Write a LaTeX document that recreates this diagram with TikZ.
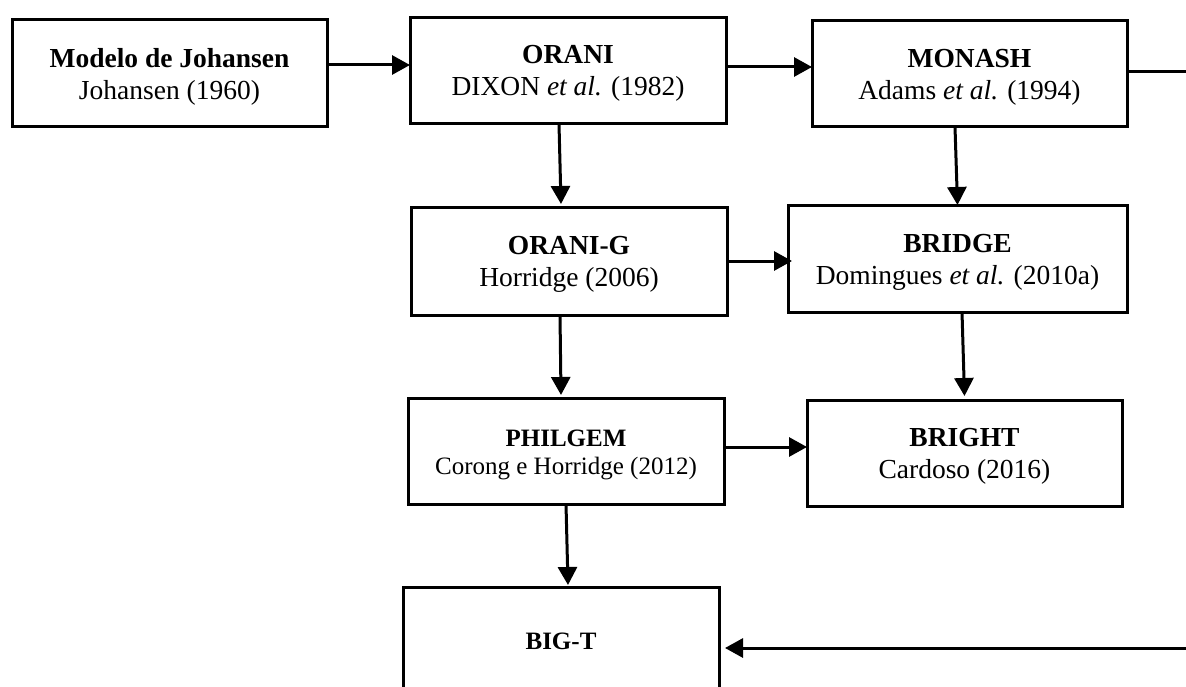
\documentclass[tikz,border=0pt]{standalone}
\usepackage{fontspec}
\setmainfont{Liberation Serif}
\usetikzlibrary{arrows.meta}

\tikzset{
  model/.style={draw, line width=3pt, minimum width=316pt, minimum height=106pt,
                inner sep=0pt, outer sep=0pt},
  lbl/.style={align=center, inner sep=0pt, font=\fontsize{27.5}{32}\selectfont},
  lblsmall/.style={align=center, inner sep=0pt, font=\fontsize{25}{28}\selectfont},
  arr/.style={line width=3pt, -{Triangle[length=18pt, width=19pt]}},
}

\begin{document}
\begin{tikzpicture}[x=1pt, y=-1pt]
  \useasboundingbox (0,0) rectangle (1186,687);
  \clip (0,0) rectangle (1186,687);

  % model boxes
  \node[model, minimum width=315pt, minimum height=107pt] (joh) at (169.5,73.5) {};
  \node[model] (orani)   at (568,71) {};
  \node[model, minimum width=315pt] (monash)  at (969.5,74) {};
  \node[model, minimum height=107pt] (oranig) at (569,261.5) {};
  \node[model, minimum width=339pt] (bridge)  at (957.5,259) {};
  \node[model] (philgem) at (566,451) {};
  \node[model, minimum width=315pt] (bright)  at (964.5,453) {};
  \node[model, minimum height=113pt] (bigt) at (561,643.5) {};

  % box texts
  \node[lbl, yshift=-3.5pt] (joh-t) at (joh.center)
    {\textbf{Modelo de Johansen}\\Johansen (1960)};
  \node[lbl, yshift=-2.5pt] (orani-t) at (orani.center)
    {\textbf{ORANI}\\DIXON \textit{et al.} (1982)};
  \node[lbl, yshift=-3.5pt] (monash-t) at (monash.center)
    {\textbf{MONASH}\\Adams \textit{et al.} (1994)};
  \node[lbl, yshift=-3pt] (oranig-t) at (oranig.center)
    {\textbf{ORANI-G}\\Horridge (2006)};
  \node[lbl, yshift=-3.5pt] (bridge-t) at (bridge.center)
    {\textbf{BRIDGE}\\Domingues \textit{et al.} (2010a)};
  \node[lblsmall, yshift=-4pt] (philgem-t) at (philgem.center)
    {\textbf{PHILGEM}\\Corong e Horridge (2012)};
  \node[lbl, yshift=-3.5pt] (bright-t) at (bright.center)
    {\textbf{BRIGHT}\\Cardoso (2016)};
  \node[lblsmall, yshift=2pt] (bigt-t) at (bigt.center) {\textbf{BIG-T}};

  % horizontal links
  \draw[arr] ([yshift=8.5pt]joh.east) -- ([yshift=6pt]orani.west);
  \draw[arr] ([yshift=4pt]orani.east) -- ([yshift=7pt]monash.west);
  \draw[arr] ([yshift=0.5pt]oranig.east) -- ([xshift=4pt,yshift=-2pt]bridge.west);
  \draw[arr] ([yshift=4pt]philgem.east) -- ([yshift=6pt]bright.west);

  % vertical links
  \draw[arr] ([xshift=-9pt]orani.south) -- ([xshift=-8pt,yshift=4pt]oranig.north);
  \draw[arr] ([xshift=-14.5pt]monash.south) -- ([yshift=1pt]bridge.north);
  \draw[arr] ([xshift=4.5pt]bridge.south) -- ([yshift=4pt]bright.north);
  \draw[arr] ([xshift=-9pt]oranig.south) -- ([xshift=-5pt,yshift=3pt]philgem.north);
  \draw[arr] (philgem.south) -- ([xshift=7pt,yshift=2pt]bigt.north);

  % return link from MONASH down the right side to BIG-T
  \coordinate (loopA) at (1200,72);
  \coordinate (loopB) at (1200,648);
  \draw[arr] ([yshift=2pt]monash.east) -- (loopA) -- (loopB)
             -- ([xshift=6pt,yshift=-4.5pt]bigt.east);
\end{tikzpicture}
\end{document}
